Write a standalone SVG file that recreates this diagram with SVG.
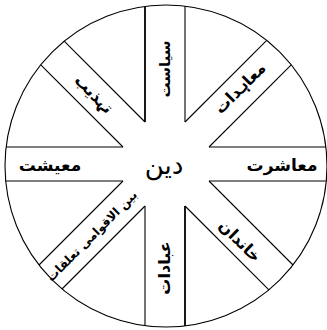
<svg xmlns="http://www.w3.org/2000/svg" width="327" height="330" viewBox="0 0 327 330">
<style>
.ln{stroke:#000;stroke-width:1.1;fill:none}
.thk{stroke:#000;stroke-width:1.8;fill:none}
.t{font-family:"DejaVu Sans",sans-serif;font-size:16px;font-weight:bold;fill:#000;text-anchor:middle;dominant-baseline:central}
</style>
<rect width="327" height="330" fill="#fff"/>
<g id="outer-circle">
<circle cx="166" cy="166" r="161" class="ln" stroke-width="1.3"/>
</g>
<g id="connectors">
<line class="thk" x1="145" y1="122" x2="145" y2="6.4"/>
<line class="ln" x1="185" y1="122" x2="185" y2="6.1"/>
<line class="ln" x1="145" y1="206" x2="145" y2="325.6"/>
<line class="thk" x1="185" y1="206" x2="185" y2="325.9"/>
<line class="ln" x1="123" y1="147" x2="6.1" y2="147"/>
<line class="ln" x1="123" y1="181" x2="5.7" y2="181"/>
<line class="ln" x1="209" y1="147" x2="325.9" y2="147"/>
<line class="ln" x1="209" y1="181" x2="326.3" y2="181"/>
<line class="ln" x1="185" y1="122" x2="266.7" y2="40.3"/>
<line class="ln" x1="209" y1="147" x2="291.2" y2="64.8"/>
<line class="ln" x1="209" y1="181" x2="293" y2="265"/>
<line class="ln" x1="185" y1="206" x2="268.9" y2="289.9"/>
<line class="ln" x1="145" y1="206" x2="62" y2="289"/>
<line class="ln" x1="123" y1="181" x2="39" y2="265"/>
<line class="ln" x1="123" y1="147" x2="40.8" y2="64.8"/>
<line class="ln" x1="145" y1="122" x2="64.2" y2="41.2"/>
</g>
<g id="center"><text class="t" x="164" y="165" style="font-size:26px;font-weight:normal">دین</text></g>
<g id="top"><text class="t" style="font-size:15px" transform="translate(165,69) rotate(-90)">سیاست</text></g>
<g id="bottom"><text class="t" transform="translate(164,268) rotate(-90)">عبادات</text></g>
<g id="left"><text class="t" x="50" y="165" style="font-size:17px">معیشت</text></g>
<g id="right"><text class="t" x="282" y="165" style="font-size:17px">معاشرت</text></g>
<g id="ne"><text class="t" transform="translate(240,88) rotate(-45)">معاہدات</text></g>
<g id="sw"><text class="t" style="font-size:12px" transform="translate(92,236) rotate(-45)">بین الاقوامی تعلقات</text></g>
<g id="nw"><text class="t" transform="translate(94,94) rotate(45)">تہذیب</text></g>
<g id="se"><text class="t" transform="translate(240,241) rotate(45)">خاندان</text></g>
</svg>
